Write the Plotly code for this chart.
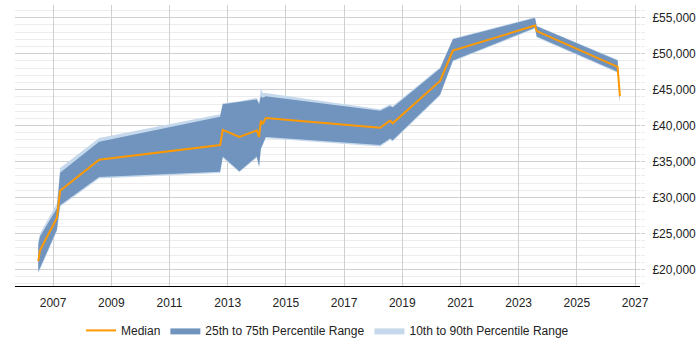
import plotly.graph_objects as go

years = [2006.49, 2006.55, 2007.13, 2007.24, 2008.58, 2012.74, 2012.83, 2013.40, 2014.00, 2014.08, 2014.14,
         2014.20, 2014.31, 2018.24, 2018.58, 2018.67, 2020.30, 2020.74, 2023.56, 2023.62, 2026.40, 2026.48]
median = [21160, 22660, 27140, 30950, 35250, 37290, 39410, 38420, 39330, 38420, 40690,
          40230, 41040, 39690, 40690, 40320, 46210, 50420, 53910, 53140, 48160, 44090]
p25 = [19670, 20200, 25510, 28910, 32850, 33570, 35700, 33660, 35700, 34340, 36830,
       37290, 38420, 37290, 38190, 37970, 44310, 49060, 53600, 52380, 47480, 43180]
p75 = [23500, 24590, 28500, 33430, 37740, 41230, 42950, 43310, 43630, 42950, 44080,
       43860, 44080, 42050, 42730, 42500, 47930, 52010, 54950, 53820, 49060, 44300]
p10 = [19500, 20000, 25300, 28700, 32650, 33400, 35500, 33500, 35500, 34150, 36650,
       37100, 38250, 37100, 38000, 37800, 44150, 48900, 53450, 52250, 47350, 42900]
p90 = [24000, 25000, 29180, 34110, 38280, 41590, 43100, 43400, 43860, 43180, 45210,
       44540, 44540, 42270, 42950, 42730, 48100, 52100, 55050, 53900, 49150, 44400]

tick_years = list(range(2007, 2028, 2))

fig = go.Figure()
fig.add_trace(go.Scatter(
    x=years + years[::-1], y=p90 + p10[::-1], fill="toself", mode="lines",
    line=dict(width=0), fillcolor="#c6d9ec", name="10th to 90th Percentile Range",
    legendrank=3, hoverinfo="skip"))
fig.add_trace(go.Scatter(
    x=years + years[::-1], y=p75 + p25[::-1], fill="toself", mode="lines",
    line=dict(width=0), fillcolor="#7094be", name="25th to 75th Percentile Range",
    legendrank=2, hoverinfo="skip"))
fig.add_trace(go.Scatter(
    x=years, y=median, mode="lines", line=dict(color="#ff9900", width=2),
    name="Median", legendrank=1))

fig.update_layout(
    width=700, height=350,
    margin=dict(l=15, r=60, t=5, b=58),
    paper_bgcolor="white", plot_bgcolor="white",
    font=dict(family="Liberation Sans, Arial, sans-serif", size=12, color="#222"),
    showlegend=True,
    legend=dict(orientation="h", x=0.5, xanchor="center", y=-0.158, yanchor="middle",
                font=dict(size=12), itemwidth=30, traceorder="normal"),
    xaxis=dict(range=[2005.69, 2027.17], tickvals=tick_years, ticktext=[str(y) for y in tick_years],
               showgrid=True, gridcolor="#d0d0d0", gridwidth=1, zeroline=False,
               showline=True, linecolor="#000", linewidth=1, ticks="", ticklabelstandoff=6,
               fixedrange=True),
    yaxis=dict(range=[17690, 56770], side="right", dtick=5000, tick0=0,
               tickprefix="£", tickformat=",d", showgrid=True, gridcolor="#d0d0d0",
               zeroline=False, showline=False, ticks="outside", ticklen=4, tickcolor="#d0d0d0",
               ticklabelstandoff=5,
               minor=dict(dtick=1000, showgrid=True, gridcolor="#ececec",
                          ticks="outside", ticklen=4, tickcolor="#ececec")),
)

fig.write_html("out.html")
